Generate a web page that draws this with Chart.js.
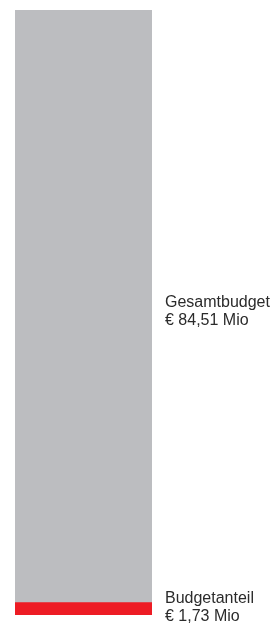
<!DOCTYPE html>
<html lang="de">
<head>
  <meta charset="UTF-8">
  <title>Budgetanteil</title>
  <script src="https://cdn.jsdelivr.net/npm/chart.js"></script>
  <style>
    html, body { margin: 0; padding: 0; background: #fff; }
    #wrap { width: 279px; height: 624px; }
  </style>
</head>
<body>
  <div id="wrap"><canvas id="budgetChart"></canvas></div>
  <script>
    // Data (Mio EUR)
    const categories = ['Budget'];
    const seriesNames = ['Budgetanteil', 'Gesamtbudget'];
    const shareValues = [1.73];
    const totalValues = [84.51];
    const labelLines = [
      ['Budgetanteil', '€ 1,73 Mio'],
      ['Gesamtbudget', '€ 84,51 Mio']
    ];

    // labels right of the bar, centred on each bar segment
    const sideLabels = {
      id: 'sideLabels',
      afterDraw(chart) {
        const c = chart.ctx;
        const y = chart.scales.y;
        const x = chart.chartArea.right + 13;
        c.save();
        c.font = '16px "Liberation Sans", Arial, sans-serif';
        c.fillStyle = '#2b2b2b';
        c.textBaseline = 'alphabetic';
        c.textAlign = 'left';
        const mids = [shareValues[0] / 2, totalValues[0] / 2];
        mids.forEach((v, i) => {
          const cy = y.getPixelForValue(v);
          c.fillText(labelLines[i][0], x, cy - 5.5);
          c.fillText(labelLines[i][1], x, cy + 12);
        });
        c.restore();
      }
    };

    const ctx = document.getElementById('budgetChart').getContext('2d');
    new Chart(ctx, {
      type: 'bar',
      data: {
        labels: categories,
        datasets: [
          { label: seriesNames[0], data: shareValues, backgroundColor: '#ed1c24' },
          { label: seriesNames[1], data: totalValues, backgroundColor: '#bcbdc0' }
        ]
      },
      options: {
        responsive: true,
        maintainAspectRatio: false,
        animation: false,
        layout: { padding: { left: 15, right: 127, top: 10, bottom: 9 } },
        datasets: { bar: { grouped: false, barPercentage: 1, categoryPercentage: 1, borderWidth: 0 } },
        plugins: { legend: { display: false }, tooltip: { enabled: false } },
        scales: {
          x: { display: false },
          y: { display: false, min: 0, max: totalValues[0] }
        }
      },
      plugins: [sideLabels]
    });
  </script>
</body>
</html>
